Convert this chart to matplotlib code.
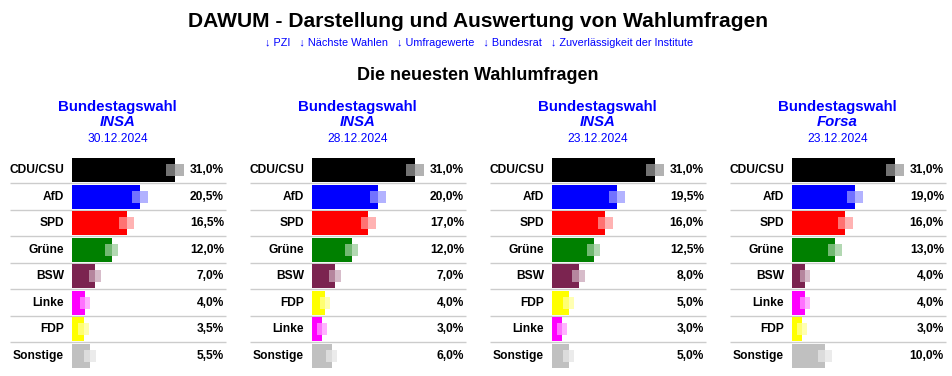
import numpy as np
import matplotlib.pyplot as plt

plt.rcParams['font.family'] = ['Liberation Sans', 'DejaVu Sans']

# Data
institutes = ['INSA', 'INSA', 'INSA', 'Forsa']
dates = ['30.12.2024', '28.12.2024', '23.12.2024', '23.12.2024']
parties = [
    ['CDU/CSU', 'AfD', 'SPD', 'Grüne', 'BSW', 'Linke', 'FDP', 'Sonstige'],
    ['CDU/CSU', 'AfD', 'SPD', 'Grüne', 'BSW', 'FDP', 'Linke', 'Sonstige'],
    ['CDU/CSU', 'AfD', 'SPD', 'Grüne', 'BSW', 'FDP', 'Linke', 'Sonstige'],
    ['CDU/CSU', 'AfD', 'SPD', 'Grüne', 'BSW', 'Linke', 'FDP', 'Sonstige'],
]
values = [
    [31.0, 20.5, 16.5, 12.0, 7.0, 4.0, 3.5, 5.5],
    [31.0, 20.0, 17.0, 12.0, 7.0, 4.0, 3.0, 6.0],
    [31.0, 19.5, 16.0, 12.5, 8.0, 5.0, 3.0, 5.0],
    [31.0, 19.0, 16.0, 13.0, 4.0, 4.0, 3.0, 10.0],
]
# half width of the error band (percentage points)
margins = [
    [2.65, 2.4, 2.25, 2.0, 1.8, 1.5, 1.6, 1.8],
    [2.65, 2.4, 2.25, 2.0, 1.8, 1.5, 1.5, 1.65],
    [2.65, 2.4, 2.25, 2.1, 1.95, 1.65, 1.5, 1.65],
    [2.65, 2.4, 2.25, 2.1, 1.5, 1.5, 1.5, 2.1],
]
colors = {'CDU/CSU': '#000000', 'AfD': '#0000ff', 'SPD': '#ff0000', 'Grüne': '#008000',
          'BSW': '#7b2450', 'Linke': '#ff00ff', 'FDP': '#ffff00', 'Sonstige': '#c0c0c0'}
links = ['PZI', 'Nächste Wahlen', 'Umfragewerte', 'Bundesrat', 'Zuverlässigkeit der Institute']

W, H = 952, 376
fig = plt.figure(figsize=(W/100, H/100), dpi=100)
fig.patch.set_facecolor('white')

def fx(px):
    return px / W

def fy(py):
    return 1 - py / H

hdr = '#0000ff'
fig.text(fx(478), fy(27), 'DAWUM - Darstellung und Auswertung von Wahlumfragen',
         ha='center', va='baseline', fontsize=15.1, fontweight='bold')
fig.text(fx(479), fy(46), '   '.join('\u2193 ' + l for l in links),
         ha='center', va='baseline', fontsize=7.8, color=hdr)
fig.text(fx(478), fy(80), 'Die neuesten Wahlumfragen',
         ha='center', va='baseline', fontsize=13, fontweight='bold')

pxpp = 3.32   # pixels per percentage point
x0 = 72       # bar start inside a panel
top, pitch = 156.8, 26.5

for k in range(4):
    left = 240 * k
    fig.text(fx(left + 117.5), fy(110.5), 'Bundestagswahl', ha='center', va='baseline',
             fontsize=10.8, fontweight='bold', color=hdr)
    fig.text(fx(left + 117.5), fy(126.5), institutes[k], ha='center', va='baseline',
             fontsize=10.8, fontweight='bold', style='italic', color=hdr)
    fig.text(fx(left + 117.5), fy(141.5), dates[k], ha='center', va='baseline',
             fontsize=8.64, color=hdr)

    n = len(values[k])
    ax = fig.add_axes([fx(left), fy(top + n*pitch), 240/W, n*pitch/H])
    ax.set_xlim(-x0/pxpp, (240 - x0)/pxpp)
    ax.set_ylim(n - 0.5, -0.5)
    ax.axis('off')

    y = np.arange(n)
    v = np.array(values[k])
    m = np.array(margins[k])
    cols = [colors[p] for p in parties[k]]
    ax.barh(y, v, height=24/pitch, color=cols, zorder=2)
    # error band: lighter inside the bar, tinted outside
    ax.barh(y, m, left=v - m, height=12/pitch, color='white', alpha=0.45, lw=0, zorder=3)
    ax.barh(y, m, left=v, height=12/pitch, color=cols, alpha=0.3, lw=0, zorder=3)

    for i in range(n - 1):
        ax.plot([(10 - x0)/pxpp, (226 - x0)/pxpp], [i + 0.5, i + 0.5],
                color='#cccccc', lw=1.0, zorder=1, solid_capstyle='butt')
    for i in range(n):
        ax.text((64 - x0)/pxpp, i, parties[k][i], ha='right', va='center',
                fontsize=8.64, fontweight='bold')
        ax.text((224 - x0)/pxpp, i, f'{values[k][i]:.1f}%'.replace('.', ','),
                ha='right', va='center', fontsize=8.64, fontweight='bold')

fig.savefig('out.png', dpi=100)
plt.close(fig)
